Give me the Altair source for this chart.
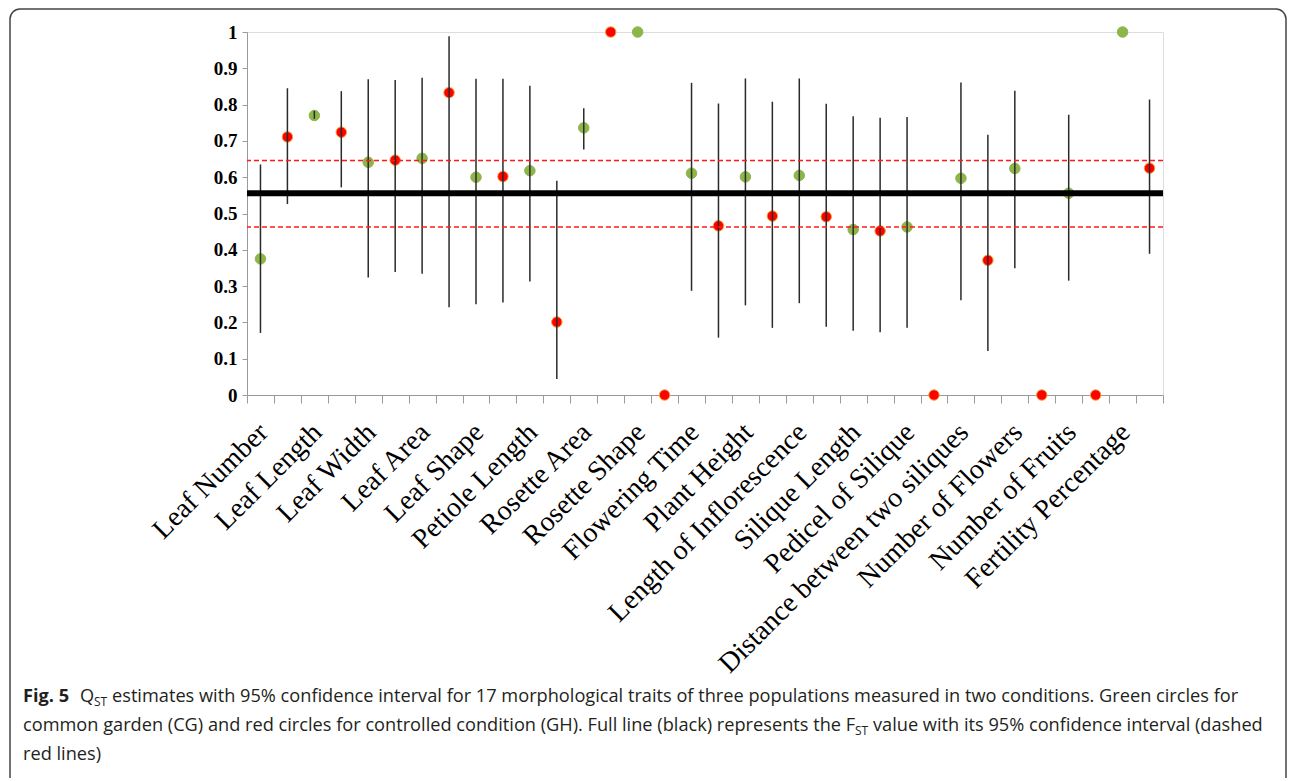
import json
import altair as alt
import pandas as pd

traits = ["Leaf Number", "Leaf Length", "Leaf Width", "Leaf Area", "Leaf Shape",
          "Petiole Length", "Rosette Area", "Rosette Shape", "Flowering Time",
          "Plant Height", "Length of Inflorescence", "Silique Length",
          "Pedicel of Silique", "Distance between two siliques",
          "Number of Flowers", "Number of Fruits", "Fertility Percentage"]

# common garden (CG, green)
cg_q = [0.375, 0.770, 0.641, 0.652, 0.600, 0.618, 0.736, 1.0, 0.611, 0.601,
        0.605, 0.456, 0.463, 0.597, 0.624, 0.556, 1.0]
cg_lo = [0.171, 0.761, 0.324, 0.334, 0.250, 0.313, 0.676, None, 0.287, 0.247,
         0.253, 0.177, 0.185, 0.261, 0.349, 0.315, None]
cg_hi = [0.635, 0.783, 0.870, 0.874, 0.871, 0.852, 0.790, None, 0.860, 0.872,
         0.872, 0.768, 0.766, 0.861, 0.838, 0.772, None]
# controlled condition (GH, red)
gh_q = [0.711, 0.724, 0.647, 0.833, 0.602, 0.201, 1.0, 0.0, 0.466, 0.493,
        0.491, 0.452, 0.0, 0.371, 0.0, 0.0, 0.625]
gh_lo = [0.526, 0.572, 0.339, 0.242, 0.255, 0.044, None, None, 0.158, 0.185,
         0.188, 0.173, None, 0.121, None, None, 0.389]
gh_hi = [0.845, 0.837, 0.868, 0.988, 0.871, 0.590, None, None, 0.803, 0.808,
         0.802, 0.764, None, 0.717, None, None, 0.814]

fst = [0.556]
fst_ci = [0.463, 0.646]
y_ticks = [0, 0.1, 0.2, 0.3, 0.4, 0.5, 0.6, 0.7, 0.8, 0.9, 1]

cap1_bold = "Fig. 5"
cap1_q = "Q"
cap_sub = "ST"
cap1_rest = "estimates with 95% confidence interval for 17 morphological traits of three populations measured in two conditions. Green circles for"
cap2_a = "common garden (CG) and red circles for controlled condition (GH). Full line (black) represents the F"
cap2_b = "value with its 95% confidence interval (dashed"
cap3 = "red lines)"

rows = []
for i, t in enumerate(traits):
    rows.append(dict(pos=2 * i + 1, trait=t, cond="CG", q=cg_q[i], lo=cg_lo[i], hi=cg_hi[i]))
    rows.append(dict(pos=2 * i + 2, trait=t, cond="GH", q=gh_q[i], lo=gh_lo[i], hi=gh_hi[i]))
df = pd.DataFrame(rows)
bars = df.dropna(subset=["lo", "hi"]).copy()
n = len(df)

W, H = 916, 363
PL, PT = 239, 24
TOTAL_W, TOTAL_H = 1279, 770

# axis values: category boundaries (ticks) and label positions (green points)
bounds = [k + 0.5 for k in range(n + 1)]
label_pos = [2 * i + 1 for i in range(len(traits))]
axis_vals = sorted(bounds + label_pos)
names_js = json.dumps(traits)

xscale = alt.Scale(domain=[0.5, n + 0.5], nice=False, zero=False)
xaxis = alt.Axis(
    title=None, orient="bottom", values=axis_vals, grid=False,
    labelExpr="datum.value % 2 == 1 ? " + names_js + "[(datum.value - 1) / 2] : ''",
    labelAngle=-45, labelAlign="right", labelBaseline="top",
    labelFont="Liberation Serif", labelFontSize=28, labelColor="black",
    labelPadding=15, labelOffset=-7, labelOverlap=False, labelLimit=0, labelFlush=False,
    tickSize=8, tickColor="#9a9a9a", domainColor="#9a9a9a",
    tickOpacity={"condition": {"test": "datum.value % 1 != 0", "value": 1}, "value": 0},
)
yscale = alt.Scale(domain=[0, 1], nice=False, zero=True)
yaxis = alt.Axis(
    title=None, values=y_ticks, format="~g", grid=False, orient="left",
    labelFont="Liberation Serif", labelFontSize=19, labelFontWeight="bold",
    labelColor="black", labelPadding=5, tickSize=5, tickColor="#9a9a9a",
    domainColor="#9a9a9a",
)

points = alt.Chart(df).mark_circle(size=110, opacity=1, strokeWidth=1).encode(
    x=alt.X("pos:Q", scale=xscale, axis=xaxis),
    y=alt.Y("q:Q", scale=yscale, axis=yaxis),
    color=alt.Color("cond:N", scale=alt.Scale(domain=["CG", "GH"], range=["#8db54a", "#ff0000"]), legend=None),
    stroke=alt.Stroke("cond:N", scale=alt.Scale(domain=["CG", "GH"], range=["#8db54a", "#f0a437"]), legend=None),
)

errs = alt.Chart(bars).mark_rule(color="#2a2a2a", strokeWidth=1.5).encode(
    x=alt.X("pos:Q", scale=xscale, axis=xaxis),
    y=alt.Y("lo:Q", scale=yscale, axis=yaxis),
    y2="hi:Q",
)

ci_df = pd.DataFrame({"v": fst_ci})
ci_lines = alt.Chart(ci_df).mark_rule(color="#ff1a1a", strokeWidth=1.5, strokeDash=[5, 3]).encode(
    y=alt.Y("v:Q", scale=yscale, axis=yaxis)
)
fst_df = pd.DataFrame({"v": fst})
fst_line = alt.Chart(fst_df).mark_rule(color="black", strokeWidth=6).encode(
    y=alt.Y("v:Q", scale=yscale, axis=yaxis)
)

one = pd.DataFrame({"a": [0]})
frame = alt.Chart(one).mark_rect(filled=False, stroke="#444444", strokeWidth=1.5, cornerRadius=10).encode(
    x=alt.value(10 - 8 - PL), x2=alt.value(TOTAL_W - 1 - PL),
    y=alt.value(9 - 8 - PT), y2=alt.value(900),
)

def txt(s, px, py, size=18.2, weight="normal", align="left"):
    return alt.Chart(one).mark_text(
        text=s, font="Open Sans", fontSize=size, fontWeight=weight,
        align=align, baseline="middle", color="#231f20",
    ).encode(x=alt.value(px - 8 - PL), y=alt.value(py - 8 - PT))

X0 = 23
L1, L2, L3 = 697, 726, 755
caption = [
    txt(cap1_bold, X0, L1, weight="bold"),
    txt(cap1_q, X0 + 57, L1),
    txt(cap_sub, X0 + 71, L1 + 5, size=12),
    txt(cap1_rest, X0 + 89, L1),
    txt(cap2_a, X0, L2),
    txt(cap_sub, 855, L2 + 5, size=12),
    txt(cap2_b, 873, L2),
    txt(cap3, X0, L3),
]

chart = alt.layer(
    points, errs, ci_lines, fst_line, frame, *caption
).properties(
    width=W, height=H,
    autosize=alt.AutoSizeParams(type="none"),
    padding={"left": PL, "top": PT, "right": TOTAL_W - PL - W, "bottom": TOTAL_H - PT - H},
).configure_view(
    stroke="#333333", strokeWidth=1.5
).configure(background="white")

chart.save("out.html", embed_options={"renderer": "svg", "actions": False})
